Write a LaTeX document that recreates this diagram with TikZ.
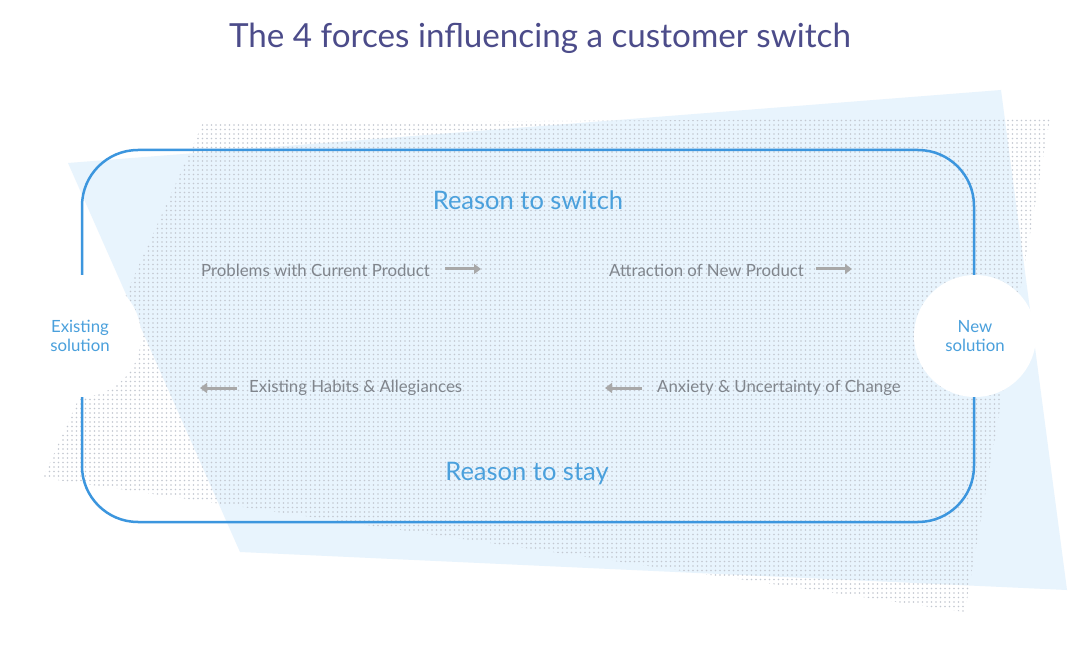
\documentclass[tikz,border=0pt]{standalone}
\usepackage{fontspec}
\setmainfont{Lato}
\usetikzlibrary{arrows.meta,patterns.meta}
\definecolor{titlecol}{RGB}{76,76,138}
\definecolor{headblue}{RGB}{74,160,220}
\definecolor{bodygray}{RGB}{128,133,140}
\definecolor{arrowgray}{RGB}{168,168,168}
\definecolor{framecol}{RGB}{60,150,222}
\definecolor{paleblue}{RGB}{232,244,253}
\definecolor{dotcol}{RGB}{195,200,208}
\tikzset{
  x=1pt, y=-1pt,
  heading/.style={text=headblue, font=\fontsize{25.5}{30}\selectfont, inner sep=0pt},
  force/.style={text=bodygray, font=\fontsize{16.8}{20}\selectfont, inner sep=0pt},
  sidelabel/.style={text=headblue, font=\fontsize{16.8}{19}\selectfont, align=center, inner sep=0pt},
  forcearrow/.style={draw=arrowgray, line width=3pt, -{Triangle[length=7pt,width=10pt]}},
  frame/.style={draw=framecol, line width=2.5pt, rounded corners=56pt},
  endcircle/.style={circle, fill=white, minimum size=122pt, inner sep=0pt}
}
\begin{document}
\begin{tikzpicture}
\useasboundingbox (0,0) rectangle (1080,647);
\fill[white] (0,0) rectangle (1080,647);
% pale blue quadrilateral
\fill[paleblue] (68,163) -- (1001,90) -- (1067,590) -- (240,552) -- cycle;
% halftone dotted quadrilateral
\fill[pattern={Dots[distance=4.5pt,radius=0.95pt]}, pattern color=dotcol]
  (203,123) -- (1050,118) -- (965,612) -- (43,478) -- cycle;
% frame
\draw[frame] (82,150) rectangle (974,522);
% end circles
\node[endcircle] (existing) at (80,336) {};
\node[endcircle] (new) at (975,336) {};
\node[sidelabel] (existingtxt) at (80,336) {Existing\\solution};
\node[sidelabel] (newtxt) at (975,336) {New\\solution};
% title
\node[text=titlecol, font=\fontsize{33.2}{38}\selectfont, inner sep=0pt] (title) at (540,38) {The 4 forces influencing a customer switch};
% headings
\node[heading] (switch) at (528,200) {Reason to switch};
\node[heading] (stay) at (527,474) {Reason to stay};
% forces
\node[force, anchor=west] (problems) at (201,270) {Problems with Current Product};
\node[force, anchor=west] (attraction) at (609,270) {Attraction of New Product};
\node[force, anchor=west] (habits) at (249,388) {Existing Habits \& Allegiances};
\node[force, anchor=west] (anxiety) at (657,388) {Anxiety \& Uncertainty of Change};
% arrow ends
\coordinate (p1) at (445,269); \coordinate (p2) at (481,269);
\coordinate (a1) at (816,269); \coordinate (a2) at (852,269);
\coordinate (h1) at (237,388); \coordinate (h2) at (200,388);
\coordinate (x1) at (642,388); \coordinate (x2) at (605,388);
\draw[forcearrow] (p1) -- (p2);
\draw[forcearrow] (a1) -- (a2);
\draw[forcearrow] (h1) -- (h2);
\draw[forcearrow] (x1) -- (x2);
\end{tikzpicture}
\end{document}
